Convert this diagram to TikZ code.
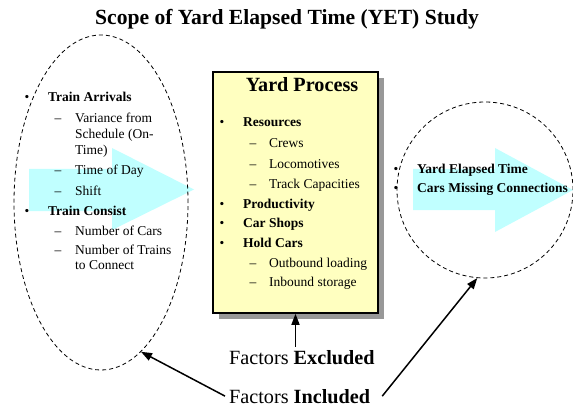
\documentclass[tikz,border=0pt]{standalone}
\usepackage{fontspec}
\setmainfont{Liberation Serif}
\usetikzlibrary{shapes.geometric,arrows.meta,shadows}
\definecolor{cyanarrow}{HTML}{C0FFFF}
\definecolor{yardbg}{HTML}{FFFFC0}
\definecolor{shadowgray}{HTML}{989898}
\begin{document}
\begin{tikzpicture}[x=1pt,y=-1pt,
  txt/.style={anchor=base west, inner sep=0pt, font=\fontsize{13.5}{16}\selectfont},
  txtb/.style={txt, font=\fontsize{13.5}{16}\selectfont\bfseries},
  bul/.style={anchor=base, inner sep=0pt, font=\fontsize{13.5}{16}\selectfont},
  dashline/.style={draw, line width=0.8pt, dash pattern=on 4pt off 3pt},
  bigarrow/.style={fill=cyanarrow, draw=none},
  pointer/.style={line width=1.5pt, -{Triangle[length=11pt,width=8pt]}},
  factor/.style={font=\fontsize{20.2}{24}\selectfont},
]
\useasboundingbox (0,0) rectangle (573,409);

% title
\node[anchor=base, inner sep=0pt, font=\fontsize{21.6}{26}\selectfont\bfseries] (title) at (287,25) {Scope of Yard Elapsed Time (YET) Study};

% cyan arrows
\fill[bigarrow] (29,169) -- (112,169) -- (112,148) -- (194,189.5) -- (112,230) -- (112,211) -- (29,211) -- cycle;
\fill[bigarrow] (413,169) -- (495,169) -- (495,148) -- (573,190) -- (495,232) -- (495,210) -- (413,210) -- cycle;

% dashed ellipses
\node[ellipse, dashline, minimum width=174pt, minimum height=335pt, inner sep=0pt] (L) at (101,202.5) {};
\node[circle, dashline, minimum size=176pt, inner sep=0pt] (R) at (485,190) {};

% left list
\node[bul] (lb1) at (27,102) {•};
\node[txtb] (l1) at (48,102) {Train Arrivals};
\node[bul] (ld1) at (58,123) {–};
\node[txt] (l2) at (75,123) {Variance from};
\node[txt] (l3) at (75,139) {Schedule (On-};
\node[txt] (l4) at (75,154) {Time)};
\node[bul] (ld2) at (58,175) {–};
\node[txt] (l5) at (75,175) {Time of Day};
\node[bul] (ld3) at (58,195) {–};
\node[txt] (l6) at (75,195) {Shift};
\node[bul] (lb2) at (27,215) {•};
\node[txtb] (l7) at (48,215) {Train Consist};
\node[bul] (ld4) at (58,235) {–};
\node[txt] (l8) at (75,235) {Number of Cars};
\node[bul] (ld5) at (58,254) {–};
\node[txt] (l9) at (75,254) {Number of Trains};
\node[txt] (l10) at (75,269) {to Connect};

% yard process box
\node[draw, line width=1.5pt, fill=yardbg, minimum width=165pt, minimum height=241pt, inner sep=0pt,
  drop shadow={shadow xshift=6pt, shadow yshift=-6pt, fill=shadowgray, opacity=1}] (box) at (295.5,192.5) {};
\node[anchor=base, inner sep=0pt, font=\fontsize{20.2}{24}\selectfont\bfseries] (boxtitle) at (302,92) {Yard Process};
\node[bul] (yb1) at (222,127) {•};
\node[txtb] (y1) at (243,127) {Resources};
\node[bul] (yd1) at (253,148) {–};
\node[txt] (y2) at (269,148) {Crews};
\node[bul] (yd2) at (253,168) {–};
\node[txt] (y3) at (269,168) {Locomotives};
\node[bul] (yd3) at (253,188) {–};
\node[txt] (y4) at (269,188) {Track Capacities};
\node[bul] (yb2) at (222,208) {•};
\node[txtb] (y5) at (243,208) {Productivity};
\node[bul] (yb3) at (222,227) {•};
\node[txtb] (y6) at (243,227) {Car Shops};
\node[bul] (yb4) at (222,247) {•};
\node[txtb] (y7) at (243,247) {Hold Cars};
\node[bul] (yd4) at (253,267) {–};
\node[txt] (y8) at (269,267) {Outbound loading};
\node[bul] (yd5) at (253,286) {–};
\node[txt] (y9) at (269,286) {Inbound storage};

% right list
\node[bul] (rb1) at (396,173) {•};
\node[txtb] (r1) at (417,173) {Yard Elapsed Time};
\node[bul] (rb2) at (396,193) {•};
\node[txtb] (r2) at (417,193) {Cars Missing Connections};

% factors
\node[factor, anchor=base west, inner ysep=3pt, inner xsep=0pt] (exc) at (229,364) {Factors \textbf{Excluded}};
\node[factor, anchor=base west, inner ysep=3pt, inner xsep=4pt] (inc) at (225,403) {Factors \textbf{Included}};

\draw[pointer] (exc.north -| box.south) -- (box.south);
\draw[pointer] (inc.west) -- (L.-75);
\draw[pointer] ([xshift=8pt]inc.east) -- (R.-95);
\end{tikzpicture}
\end{document}
